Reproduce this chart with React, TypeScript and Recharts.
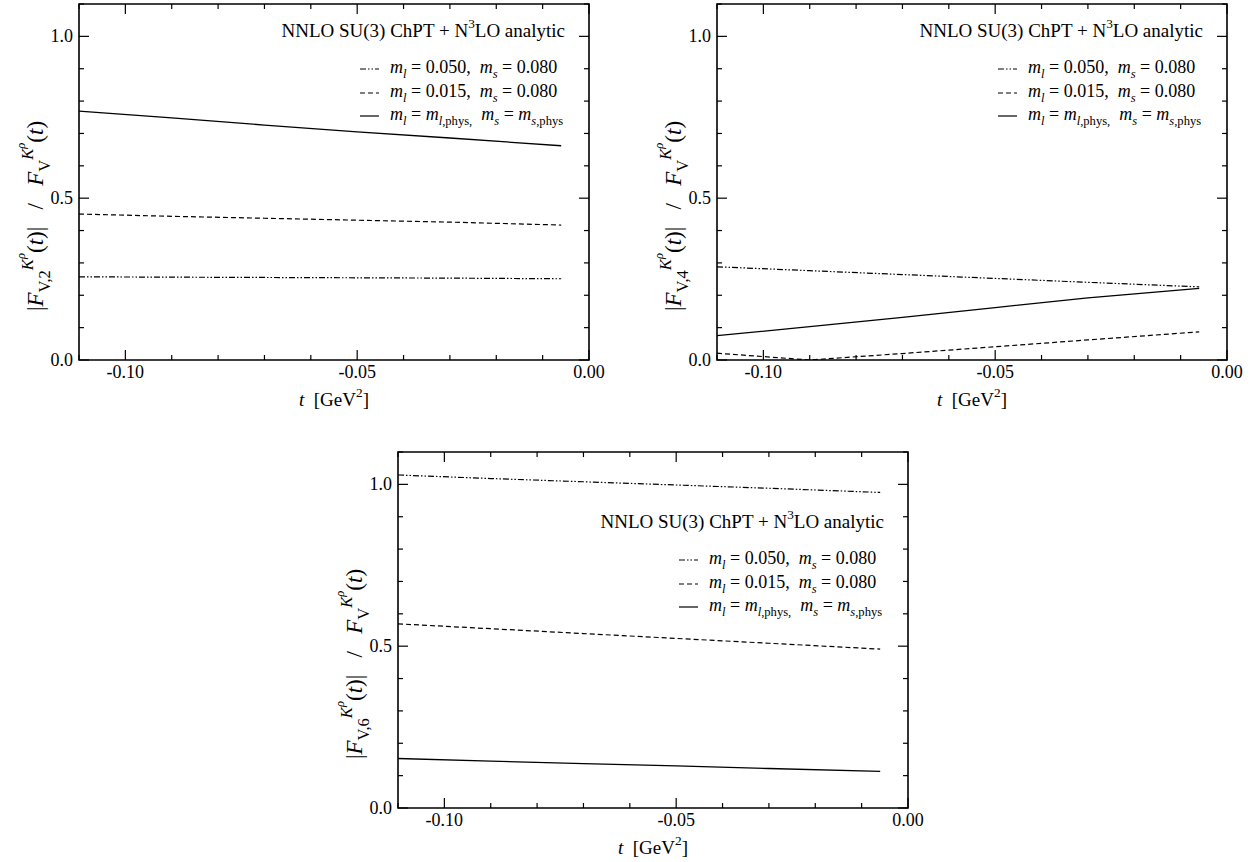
import React from "react";
import { LineChart, Line, XAxis, YAxis, ReferenceArea } from "recharts";

const tValues = [-0.11, -0.09, -0.07, -0.05, -0.03, -0.006];

// |F_V,2| / F_V
const f2DashDot = [0.257, 0.256, 0.255, 0.254, 0.253, 0.251];
const f2Dashed = [0.451, 0.444, 0.438, 0.432, 0.426, 0.417];
const f2Solid = [0.769, 0.748, 0.726, 0.705, 0.686, 0.662];

// |F_V,4| / F_V
const f4DashDot = [0.288, 0.276, 0.264, 0.252, 0.24, 0.226];
const f4Dashed = [0.021, 0.0, 0.02, 0.041, 0.062, 0.087];
const f4Solid = [0.075, 0.103, 0.132, 0.162, 0.192, 0.221];

// |F_V,6| / F_V
const f6DashDot = [1.029, 1.018, 1.008, 0.998, 0.988, 0.975];
const f6Dashed = [0.569, 0.554, 0.539, 0.524, 0.509, 0.491];
const f6Solid = [0.153, 0.145, 0.137, 0.13, 0.122, 0.113];

const xTicks = [-0.11, -0.1, -0.09, -0.08, -0.07, -0.06, -0.05, -0.04, -0.03, -0.02, -0.01, 0];
const xMajor = [-0.1, -0.05, 0];
const xMajorText = ["-0.10", "-0.05", "0.00"];
const yTicks = [0, 0.1, 0.2, 0.3, 0.4, 0.5, 0.6, 0.7, 0.8, 0.9, 1.0, 1.1];
const yMajor = [0, 0.5, 1.0];
const yMajorText = ["0.0", "0.5", "1.0"];

type Part = { s: string; i?: boolean; lv?: number };

const legendRows: Part[][] = [
  [{ s: "m", i: true }, { s: "l", i: true, lv: -1 }, { s: " = 0.050,  " }, { s: "m", i: true }, { s: "s", i: true, lv: -1 }, { s: " = 0.080" }],
  [{ s: "m", i: true }, { s: "l", i: true, lv: -1 }, { s: " = 0.015,  " }, { s: "m", i: true }, { s: "s", i: true, lv: -1 }, { s: " = 0.080" }],
  [
    { s: "m", i: true }, { s: "l", i: true, lv: -1 }, { s: " = " }, { s: "m", i: true }, { s: "l", i: true, lv: -1 }, { s: ",phys,", lv: -1 },
    { s: "  " }, { s: "m", i: true }, { s: "s", i: true, lv: -1 }, { s: " = " }, { s: "m", i: true }, { s: "s", i: true, lv: -1 }, { s: ",phys", lv: -1 },
  ],
];
const titleParts: Part[] = [{ s: "NNLO SU(3) ChPT + N" }, { s: "3", lv: 1 }, { s: "LO analytic" }];
const xTitleParts: Part[] = [{ s: "t", i: true }, { s: "  [GeV" }, { s: "2", lv: 1 }, { s: "]" }];

const dashes = ["6 2 1.5 2 1.5 2", "5 3", undefined];

const FONT = '"Liberation Serif", "Times New Roman", Times, serif';
const PLOT_W = 510;
const PLOT_H = 356;
const AXIS_W = 70;
const RIGHT_PAD = 30;
const AXIS_H = 54;
const TOP_PAD = 4;

const panels = [
  { idx: "2", left: 79, top: 4, legendDrop: 0, series: [f2DashDot, f2Dashed, f2Solid] },
  { idx: "4", left: 717, top: 4, legendDrop: 0, series: [f4DashDot, f4Dashed, f4Solid] },
  { idx: "6", left: 398, top: 452, legendDrop: 43, series: [f6DashDot, f6Dashed, f6Solid] },
];

function spans(parts: Part[], size: number, subScale = 0.7) {
  let prev = 0;
  return parts.map((p, k) => {
    const lv = p.lv ?? 0;
    const shift = lv === -1 ? size * 0.3 : lv === 1 ? -size * 0.45 : lv === 2 ? -size * 0.8 : 0;
    const fs = lv === 0 ? size : lv === 2 ? size * 0.55 : size * subScale;
    const dy = shift - prev;
    prev = shift;
    return (
      <tspan key={k} dy={dy} fontSize={fs} fontStyle={p.i ? "italic" : "normal"}>
        {p.s}
      </tspan>
    );
  });
}

function findMajor(v: number, list: number[]) {
  return list.findIndex((m) => Math.abs(m - v) < 1e-9);
}

function YTick(props: any) {
  const { x, y, payload } = props;
  const k = findMajor(payload.value, yMajor);
  const len = k >= 0 ? 10 : 5;
  return (
    <g>
      <line x1={x} y1={y} x2={x + len} y2={y} stroke="#000" strokeWidth={1.2} />
      <line x1={x + PLOT_W} y1={y} x2={x + PLOT_W - len} y2={y} stroke="#000" strokeWidth={1.2} />
      {k >= 0 && (
        <text x={x - 6} y={y + 6} textAnchor="end" fontSize={18} fontFamily={FONT} fill="#000">
          {yMajorText[k]}
        </text>
      )}
    </g>
  );
}

function XTick(props: any) {
  const { x, y, payload } = props;
  const k = findMajor(payload.value, xMajor);
  const len = k >= 0 ? 10 : 5;
  return (
    <g>
      <line x1={x} y1={y} x2={x} y2={y - len} stroke="#000" strokeWidth={1.2} />
      <line x1={x} y1={y - PLOT_H} x2={x} y2={y - PLOT_H + len} stroke="#000" strokeWidth={1.2} />
      {k >= 0 && (
        <text x={x} y={y + 18} textAnchor="middle" fontSize={18} fontFamily={FONT} fill="#000">
          {xMajorText[k]}
        </text>
      )}
    </g>
  );
}

function YTitle({ viewBox, idx }: any) {
  const cx = viewBox.x + viewBox.width - 36;
  const cy = viewBox.y + 212;
  const parts: Part[] = [
    { s: "|" }, { s: "F", i: true }, { s: "V," + idx, lv: -1 }, { s: "K", i: true, lv: 1 }, { s: "ρ", i: true, lv: 2 },
    { s: "(" }, { s: "t", i: true }, { s: ")|   /   " }, { s: "F", i: true }, { s: "V", lv: -1 },
    { s: "K", i: true, lv: 1 }, { s: "ρ", i: true, lv: 2 }, { s: "(" }, { s: "t", i: true }, { s: ")" },
  ];
  return (
    <text
      x={cx}
      y={cy}
      transform={`rotate(-90 ${cx} ${cy})`}
      textAnchor="middle"
      fontFamily={FONT}
      fill="#000"
      style={{ whiteSpace: "pre" }}
    >
      {spans(parts, 23, 0.72)}
    </text>
  );
}

function XTitle({ viewBox }: any) {
  return (
    <text
      x={viewBox.x + viewBox.width / 2}
      y={viewBox.y + 46}
      textAnchor="middle"
      fontFamily={FONT}
      fill="#000"
      style={{ whiteSpace: "pre" }}
    >
      {spans(xTitleParts, 19)}
    </text>
  );
}

function LegendOverlay({ drop }: { drop: number }) {
  const right = AXIS_W + PLOT_W;
  const top = TOP_PAD + drop;
  const rowBase = [69, 93, 116];
  return (
    <svg
      width={AXIS_W + PLOT_W + RIGHT_PAD}
      height={TOP_PAD + PLOT_H + AXIS_H}
      style={{ position: "absolute", left: 0, top: 0, pointerEvents: "none" }}
    >
      <text x={right - 24} y={top + 33} textAnchor="end" fontFamily={FONT} fill="#000" style={{ whiteSpace: "pre" }}>
        {spans(titleParts, 19)}
      </text>
      {legendRows.map((row, r) => (
        <g key={r}>
          <line
            x1={right - 229}
            x2={right - 210}
            y1={top + rowBase[r] - 4}
            y2={top + rowBase[r] - 4}
            stroke="#000"
            strokeWidth={1.2}
            strokeDasharray={dashes[r]}
          />
          <text x={right - 199} y={top + rowBase[r]} fontFamily={FONT} fill="#000" style={{ whiteSpace: "pre" }}>
            {spans(row, 18)}
          </text>
        </g>
      ))}
    </svg>
  );
}

function Panel({ idx, left, top, legendDrop, series }: any) {
  const data = tValues.map((t, i) => ({ t, a: series[0][i], b: series[1][i], c: series[2][i] }));
  return (
    <div style={{ position: "absolute", left: left - AXIS_W, top: top - TOP_PAD }}>
      <LineChart
        width={AXIS_W + PLOT_W + RIGHT_PAD}
        height={TOP_PAD + PLOT_H + AXIS_H}
        data={data}
        margin={{ top: TOP_PAD, right: RIGHT_PAD, bottom: 0, left: 0 }}
      >
        <XAxis
          dataKey="t"
          type="number"
          domain={[-0.11, 0]}
          ticks={xTicks}
          interval={0}
          allowDataOverflow
          height={AXIS_H}
          tickSize={0}
          tickMargin={0}
          tickLine={false}
          axisLine={false}
          tick={(p: any) => <XTick {...p} />}
          label={<XTitle />}
        />
        <YAxis
          type="number"
          domain={[0, 1.1]}
          ticks={yTicks}
          interval={0}
          allowDataOverflow
          width={AXIS_W}
          tickSize={0}
          tickMargin={0}
          tickLine={false}
          axisLine={false}
          tick={(p: any) => <YTick {...p} />}
          label={<YTitle idx={idx} />}
        />
        <Line dataKey="a" type="linear" stroke="#000" strokeWidth={1.2} strokeDasharray={dashes[0]} dot={false} isAnimationActive={false} />
        <Line dataKey="b" type="linear" stroke="#000" strokeWidth={1.2} strokeDasharray={dashes[1]} dot={false} isAnimationActive={false} />
        <Line dataKey="c" type="linear" stroke="#000" strokeWidth={1.3} dot={false} isAnimationActive={false} />
        <ReferenceArea x1={-0.11} x2={0} y1={0} y2={1.1} fill="none" stroke="#000" strokeWidth={1.6} fillOpacity={0} />
      </LineChart>
      <LegendOverlay drop={legendDrop} />
    </div>
  );
}

export default function App() {
  return (
    <div style={{ position: "absolute", left: 0, top: 0, width: 1260, height: 862, background: "#fff", overflow: "hidden" }}>
      {panels.map((p) => (
        <Panel key={p.idx} {...p} />
      ))}
    </div>
  );
}
